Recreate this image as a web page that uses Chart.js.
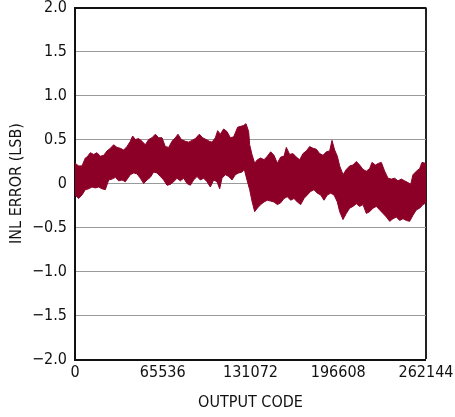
<!DOCTYPE html>
<html>
<head>
<meta charset="utf-8">
<script src="https://cdn.jsdelivr.net/npm/chart.js@4/dist/chart.umd.min.js"></script>
<style>
  html, body { margin: 0; padding: 0; background: #fff; }
  #wrap { width: 455px; height: 417px; }
</style>
</head>
<body>
<div id="wrap"><canvas id="inl"></canvas></div>
<script>
// upper edge of the INL band: output code / error (LSB)
const upperCodes = [0, 2739, 5228, 7718, 8963, 11452, 13942, 16431, 18921, 21410, 23900, 26389, 28878, 31368,
  33857, 36347, 38836, 41326, 43068, 45060, 47549, 50039, 52528, 55018, 57507, 59997, 62486, 64976, 67465,
  69955, 72444, 74934, 76925, 79415, 82402, 84892, 87381, 89871, 92858, 95348, 97837, 100327, 102318, 104808,
  106550, 108542, 111032, 113521, 116011, 118500, 121488, 123977, 125969, 127712, 129704,
  130450, 132192, 134184, 136176, 138665, 141155, 143644, 146134, 148623, 151113, 153602, 156092, 157834,
  160324, 162813, 165303, 167792, 170282, 172771, 175261, 177750, 180240, 182729, 185219, 187708, 190198,
  191941, 193932, 195924, 197666, 200156, 202645, 205135, 207624, 210114, 212603, 215093, 217582, 220072,
  221815, 224304, 226794, 228785, 231275, 233764, 236254, 238743, 241233, 243722, 246212, 248701, 250693,
  252435, 254925, 257414, 259157, 261646, 262144];
const upperVals = [0.23, 0.20, 0.20, 0.29, 0.30, 0.35, 0.33, 0.35, 0.31, 0.32, 0.37, 0.40, 0.44, 0.41,
  0.40, 0.38, 0.42, 0.48, 0.54, 0.50, 0.51, 0.48, 0.44, 0.50, 0.52, 0.56, 0.52, 0.52, 0.42,
  0.41, 0.48, 0.52, 0.56, 0.50, 0.48, 0.47, 0.49, 0.51, 0.56, 0.52, 0.50, 0.48, 0.47, 0.52,
  0.60, 0.56, 0.62, 0.59, 0.52, 0.53, 0.64, 0.65, 0.66, 0.68, 0.59,
  0.44, 0.33, 0.23, 0.27, 0.29, 0.27, 0.31, 0.36, 0.32, 0.23, 0.30, 0.31, 0.41,
  0.33, 0.34, 0.30, 0.27, 0.34, 0.37, 0.42, 0.40, 0.39, 0.34, 0.32, 0.36, 0.37,
  0.49, 0.38, 0.31, 0.20, 0.10, 0.16, 0.20, 0.21, 0.25, 0.21, 0.16, 0.14, 0.17,
  0.24, 0.21, 0.23, 0.24, 0.14, 0.06, 0.05, 0.06, 0.03, 0.05, 0.03, 0.01, -0.01,
  0.10, 0.14, 0.17, 0.24, 0.23, 0.22];

// lower edge of the INL band
const lowerCodes = [0, 2739, 5228, 7718, 10207, 12697, 15186, 17676, 20165, 22654, 25144, 27633, 30123, 32612,
  35102, 37591, 41326, 43815, 46305, 48794, 51284, 53773, 56263, 58752, 61242, 63731, 66221, 68710, 71200,
  73689, 76179, 78668, 81158, 83647, 86137, 88626, 91116, 93605, 96095, 98584, 101074, 103563, 106053,
  108044, 109787, 112276, 114766, 117255, 119745, 122234, 124724, 126466, 128458,
  130450, 132192, 134184, 136176, 138665, 141155, 143644, 146134, 148623, 151113, 153602, 156092, 158581,
  161071, 163560, 166050, 168539, 171029, 173518, 176008, 178497, 180987, 183476, 185966, 188455, 190945,
  193434, 195924, 197666, 200156, 202645, 205135, 207624, 210114, 212603, 215093, 217582, 220072, 222561,
  225051, 227540, 230030, 232519, 235009, 237498, 239988, 242477, 244967, 247456, 249946, 252435, 254925,
  257414, 259904, 262144];
const lowerVals = [-0.13, -0.17, -0.13, -0.07, -0.06, -0.04, -0.05, -0.04, -0.06, -0.07, 0.04, 0.05, 0.07, 0.03,
  0.04, 0.02, 0.10, 0.12, 0.11, 0.06, 0.00, 0.04, 0.07, 0.13, 0.12, 0.08, 0.04, -0.02, -0.01,
  0.02, 0.06, 0.03, 0.06, 0.00, -0.02, 0.04, 0.08, 0.04, 0.06, 0.02, -0.04, 0.04, 0.02,
  -0.06, 0.06, 0.10, 0.08, 0.04, 0.10, 0.12, 0.13, 0.16, 0.04,
  -0.07, -0.20, -0.32, -0.28, -0.24, -0.21, -0.19, -0.20, -0.21, -0.24, -0.22, -0.17, -0.15,
  -0.19, -0.17, -0.21, -0.24, -0.17, -0.13, -0.09, -0.07, -0.11, -0.13, -0.19, -0.13, -0.11,
  -0.13, -0.21, -0.32, -0.41, -0.34, -0.28, -0.26, -0.23, -0.26, -0.24, -0.34, -0.32, -0.28,
  -0.26, -0.30, -0.34, -0.38, -0.43, -0.40, -0.38, -0.42, -0.40, -0.42, -0.43, -0.36, -0.30,
  -0.28, -0.24, -0.22];

const xTicks = [0, 65536, 131072, 196608, 262144];
const yTicks = [2.0, 1.5, 1.0, 0.5, 0, -0.5, -1.0, -1.5, -2.0];
const yTickLabels = ['2.0', '1.5', '1.0', '0.5', '0', '\u22120.5', '\u22121.0', '\u22121.5', '\u22122.0'];

const BAND = '#8c0028';
const INK = '#111';
const FONT = '"Liberation Sans Narrow", "DejaVu Sans Condensed", "Liberation Sans", sans-serif';

function pairs(xs, ys) {
  return xs.map((x, i) => ({ x: x, y: ys[i] }));
}

new Chart(document.getElementById('inl'), {
  type: 'line',
  data: {
    datasets: [
      { data: pairs(upperCodes, upperVals), borderColor: BAND, backgroundColor: BAND, borderWidth: 1,
        pointRadius: 0, tension: 0, fill: '+1' },
      { data: pairs(lowerCodes, lowerVals), borderColor: BAND, backgroundColor: BAND, borderWidth: 1,
        pointRadius: 0, tension: 0, fill: false }
    ]
  },
  options: {
    responsive: true,
    maintainAspectRatio: false,
    animation: false,
    layout: { padding: { top: 7.5, right: 29, bottom: 0, left: 0 } },
    plugins: { legend: { display: false }, tooltip: { enabled: false } },
    scales: {
      x: {
        type: 'linear', min: 0, max: 262144,
        afterBuildTicks: (s) => { s.ticks = xTicks.map(v => ({ value: v })); },
        afterFit: (s) => { s.height = 57.5; s.paddingLeft = 0; s.paddingRight = 0; },
        grid: {
          drawTicks: false,
          color: (c) => (c.tick && c.tick.value === 262144) ? '#222' : 'rgba(0,0,0,0)',
          lineWidth: (c) => (c.tick && c.tick.value === 262144) ? 2 : 0
        },
        border: { display: true, color: INK, width: 2 },
        ticks: {
          padding: 4, color: INK, maxRotation: 0, autoSkip: false,
          font: { family: FONT, size: 16 },
          callback: (v) => String(v)
        },
        title: { display: true, text: 'OUTPUT CODE', color: INK,
          font: { family: FONT, size: 16 }, padding: { top: 0, bottom: 5 } }
      },
      y: {
        type: 'linear', min: -2, max: 2,
        afterBuildTicks: (s) => { s.ticks = yTicks.map(v => ({ value: v })); },
        afterFit: (s) => { s.width = 75; s.paddingTop = 0; s.paddingBottom = 0; },
        grid: {
          drawTicks: false,
          color: (c) => (c.tick && Math.abs(c.tick.value) === 2) ? INK : '#9a9a9a',
          lineWidth: (c) => (c.tick && Math.abs(c.tick.value) === 2) ? 2 : 1
        },
        border: { display: true, color: INK, width: 2 },
        ticks: {
          padding: 8, color: INK, autoSkip: false,
          font: { family: FONT, size: 16 },
          callback: (v) => yTickLabels[yTicks.indexOf(v)]
        },
        title: { display: true, text: 'INL ERROR (LSB)', color: INK,
          font: { family: FONT, size: 16 }, padding: { top: 7, bottom: 0 } }
      }
    }
  }
});
</script>
</body>
</html>
